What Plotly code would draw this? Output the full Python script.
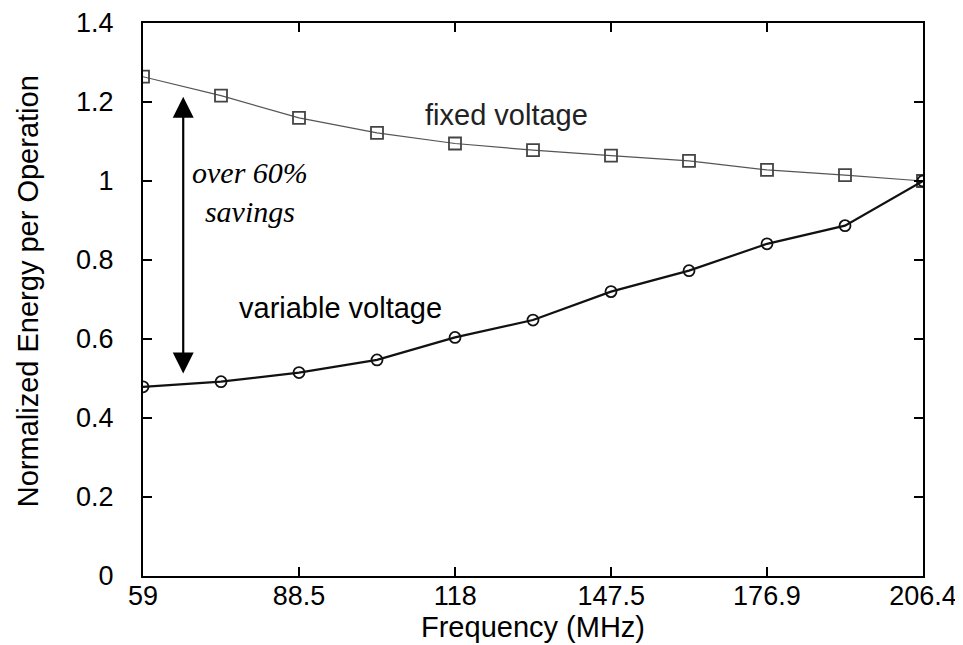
import plotly.graph_objects as go

freq = [59, 73.74, 88.48, 103.22, 117.96, 132.7, 147.44, 162.18, 176.92, 191.66, 206.4]
fixed_voltage = [1.264, 1.216, 1.160, 1.122, 1.095, 1.078, 1.064, 1.051, 1.028, 1.015, 1.0]
variable_voltage = [0.479, 0.492, 0.515, 0.547, 0.604, 0.648, 0.720, 0.773, 0.841, 0.887, 1.0]
x_ticks = [59, 88.5, 118, 147.5, 176.9, 206.4]
x_tick_labels = ["59", "88.5", "118", "147.5", "176.9", "206.4"]
y_ticks = [0, 0.2, 0.4, 0.6, 0.8, 1.0, 1.2, 1.4]
y_tick_labels = ["0", "0.2", "0.4", "0.6", "0.8", "1", "1.2", "1.4"]

SANS = "Liberation Sans, Arial, Helvetica, sans-serif"

fig = go.Figure()
fig.add_trace(go.Scatter(
    x=freq, y=fixed_voltage, mode="lines+markers", name="fixed voltage",
    line=dict(color="#555555", width=1.2),
    marker=dict(symbol="square-open", size=12, color="#444444", line=dict(width=1.8)),
))
fig.add_trace(go.Scatter(
    x=freq, y=variable_voltage, mode="lines+markers", name="variable voltage",
    line=dict(color="#111111", width=2.2),
    marker=dict(symbol="circle-open", size=11, color="#111111", line=dict(width=1.8)),
))

axis_common = dict(
    showgrid=False, zeroline=False, showline=True, linecolor="black", linewidth=2,
    mirror="ticks", ticks="inside", ticklen=9, tickwidth=2, tickcolor="black",
    tickfont=dict(family=SANS, size=27, color="black"), automargin=False,
)
fig.update_xaxes(range=[59, 206.4], tickmode="array", tickvals=x_ticks,
                 ticktext=x_tick_labels, ticklabelstandoff=-5, **axis_common)
fig.update_yaxes(range=[0, 1.4], tickmode="array", tickvals=y_ticks,
                 ticktext=y_tick_labels, ticklabelstandoff=22, **axis_common)

annotations = [
    dict(x=0.5, y=0, xref="paper", yref="paper", yshift=-51, yanchor="middle",
         text="Frequency (MHz)", showarrow=False,
         font=dict(family=SANS, size=29, color="black")),
    dict(x=0, y=0.515, xref="paper", yref="paper", xshift=-115, xanchor="center",
         yanchor="middle", textangle=-90, text="Normalized Energy per Operation",
         showarrow=False, font=dict(family=SANS, size=29, color="black")),
    dict(x=127.6, y=1.167, xref="x", yref="y", text="fixed voltage", showarrow=False,
         font=dict(family=SANS, size=29, color="#222222")),
    dict(x=96.4, y=0.678, xref="x", yref="y", text="variable voltage", showarrow=False,
         font=dict(family=SANS, size=29, color="black")),
    dict(x=79.2, y=0.971, xref="x", yref="y", text="<i>over 60%<br>savings</i>",
         showarrow=False,
         font=dict(family="Liberation Serif, Times New Roman, serif", size=30, color="black")),
    dict(x=66.6, y=1.213, ax=66.6, ay=0.509, xref="x", yref="y", axref="x", ayref="y",
         text="", showarrow=True, arrowhead=2, arrowside="end+start", arrowsize=1.9,
         arrowwidth=2.2, arrowcolor="black", standoff=0, startstandoff=0),
]

# the page body adds an 8px margin, so the figure is sized/offset to compensate
fig.update_layout(
    width=955, height=637,
    margin=dict(l=135, r=40, t=15, b=69, autoexpand=False),
    paper_bgcolor="white", plot_bgcolor="white",
    showlegend=False,
    annotations=annotations,
)

fig.write_html("out.html")
